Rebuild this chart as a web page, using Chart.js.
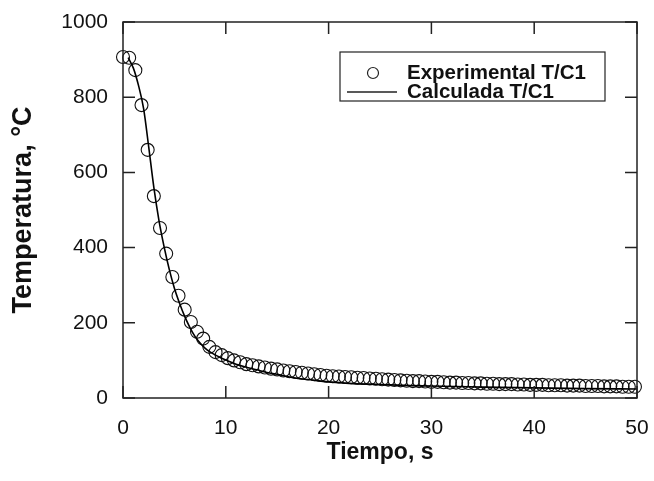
<!DOCTYPE html>
<html>
<head>
<meta charset="utf-8">
<script src="https://cdn.jsdelivr.net/npm/chart.js@4.4.1/dist/chart.umd.min.js"></script>
<style>
  html, body { margin: 0; padding: 0; background: #fff; }
  #wrap { width: 654px; height: 481px; }
</style>
</head>
<body>
<div id="wrap"><canvas id="c" width="654" height="481"></canvas></div>
<script>
// ---- data ----
const expTimes = [0,0.6,1.2,1.8,2.4,3.0,3.6,4.2,4.8,5.4,6.0,6.6,7.2,7.8,8.4,9.0,9.6,10.2,10.8,11.4,
  12.0,12.6,13.2,13.8,14.4,15.0,15.6,16.2,16.8,17.4,18.0,18.6,19.2,19.8,20.4,21.0,21.6,22.2,22.8,23.4,
  24.0,24.6,25.2,25.8,26.4,27.0,27.6,28.2,28.8,29.4,30.0,30.6,31.2,31.8,32.4,33.0,33.6,34.2,34.8,35.4,
  36.0,36.6,37.2,37.8,38.4,39.0,39.6,40.2,40.8,41.4,42.0,42.6,43.2,43.8,44.4,45.0,45.6,46.2,46.8,47.4,
  48.0,48.6,49.2,49.8];
const expTemps = [907,905,872,779,660,537,452,384,322,272,235,202,176,158,136,122,114,106,100,95,
  90,87,84,81,78,76,73,71,69,67,65,63,61,59,58,57,56,55,54,53,
  52,51,50,49,48,47,46,45,45,44,43,43,42,41,41,40,40,39,39,38,
  38,37,37,37,36,36,35,35,35,34,34,34,33,33,33,32,32,32,31,31,
  31,30,30,30];
const calcTimes = [0.5,1.0,1.5,2.0,2.5,3.0,3.5,4.0,4.5,5.0,5.5,6.0,6.5,7.0,7.5,8.0,8.5,9.0,9.5,10,
  11,12,13,14,15,16,17,18,20,22,25,28,30,35,40,45,50];
const calcTemps = [905,878,832,770,668,560,472,402,342,292,252,217,188,164,146,132,122,114,107,101,
  90,82,75,68,63,57,52,49,43,39,36,33,32,29,27,25,24];
const xTicks = [0,10,20,30,40,50];
const yTicks = [0,200,400,600,800,1000];
const seriesLabels = ['Experimental T/C1', 'Calculada T/C1'];

const FONT = '"Liberation Sans", Arial, Helvetica, sans-serif';

const framePlugin = {
  id: 'frameTicks',
  afterDatasetsDraw(chart) {
    const {ctx, chartArea: ca, scales} = chart;
    ctx.save();
    ctx.strokeStyle = '#222';
    ctx.lineWidth = 1.5;
    ctx.strokeRect(ca.left, ca.top, ca.right - ca.left, ca.bottom - ca.top);
    const L = 12;
    ctx.beginPath();
    xTicks.forEach(v => {
      const px = scales.x.getPixelForValue(v);
      ctx.moveTo(px, ca.bottom); ctx.lineTo(px, ca.bottom - L);
      ctx.moveTo(px, ca.top); ctx.lineTo(px, ca.top + L);
    });
    yTicks.forEach(v => {
      const py = scales.y.getPixelForValue(v);
      ctx.moveTo(ca.left, py); ctx.lineTo(ca.left + L, py);
      ctx.moveTo(ca.right, py); ctx.lineTo(ca.right - L, py);
    });
    ctx.stroke();

    // legend box
    const bx = ca.left + 217, by = ca.top + 30, bw = 265, bh = 49;
    ctx.fillStyle = '#fff';
    ctx.fillRect(bx, by, bw, bh);
    ctx.lineWidth = 1.2;
    ctx.strokeRect(bx, by, bw, bh);
    const y1 = by + 21, y2 = by + 40;
    ctx.lineWidth = 1.2;
    ctx.beginPath();
    ctx.arc(bx + 33, y1, 5.5, 0, Math.PI * 2);
    ctx.stroke();
    ctx.lineWidth = 1.5;
    ctx.beginPath();
    ctx.moveTo(bx + 7, y2); ctx.lineTo(bx + 57, y2);
    ctx.stroke();
    ctx.fillStyle = '#111';
    ctx.font = 'bold 20.5px ' + FONT;
    ctx.textBaseline = 'middle';
    ctx.textAlign = 'left';
    ctx.fillText(chart.data.datasets[0].label, bx + 67, y1);
    ctx.fillText(chart.data.datasets[1].label, bx + 67, y2);
    ctx.restore();
  }
};

new Chart(document.getElementById('c'), {
  type: 'scatter',
  data: {
    datasets: [
      {
        label: seriesLabels[0],
        data: expTimes.map((t, i) => ({x: t, y: expTemps[i]})),
        showLine: false,
        pointStyle: 'circle',
        pointRadius: 6.5,
        pointBorderWidth: 1.1,
        pointBorderColor: '#111',
        pointBackgroundColor: 'rgba(0,0,0,0)',
        clip: false,
        order: 2
      },
      {
        label: seriesLabels[1],
        data: calcTimes.map((t, i) => ({x: t, y: calcTemps[i]})),
        showLine: true,
        borderColor: '#000',
        borderWidth: 1.6,
        pointRadius: 0,
        cubicInterpolationMode: 'monotone',
        order: 1
      }
    ]
  },
  options: {
    responsive: false,
    animation: false,
    devicePixelRatio: 1,
    layout: { padding: { left: 0, right: 17, top: 22, bottom: 0 } },
    plugins: { legend: { display: false }, tooltip: { enabled: false } },
    scales: {
      x: {
        type: 'linear', min: 0, max: 50,
        afterBuildTicks: s => { s.ticks = xTicks.map(v => ({value: v})); },
        afterFit: s => { s.height = 83; s.paddingLeft = 0; s.paddingRight = 0; },
        grid: { display: false, drawTicks: false },
        border: { display: false },
        ticks: { color: '#111', padding: 18, font: { family: FONT, size: 21 },
          callback: v => String(v) },
        title: { display: true, text: 'Tiempo, s', color: '#111',
          font: { family: FONT, size: 23, weight: 'bold' }, padding: { top: 0, bottom: 15 } }
      },
      y: {
        type: 'linear', min: 0, max: 1000,
        afterBuildTicks: s => { s.ticks = yTicks.map(v => ({value: v})); },
        afterFit: s => { s.width = 123; s.paddingTop = 0; s.paddingBottom = 0; },
        grid: { display: false, drawTicks: false },
        border: { display: false },
        ticks: { color: '#111', padding: 15, font: { family: FONT, size: 21 },
          callback: v => String(v) },
        title: { display: true, text: 'Temperatura, °C', color: '#111',
          font: { family: FONT, size: 27, weight: 'bold' }, padding: { top: 7, bottom: 0 } }
      }
    }
  },
  plugins: [framePlugin]
});
</script>
</body>
</html>
